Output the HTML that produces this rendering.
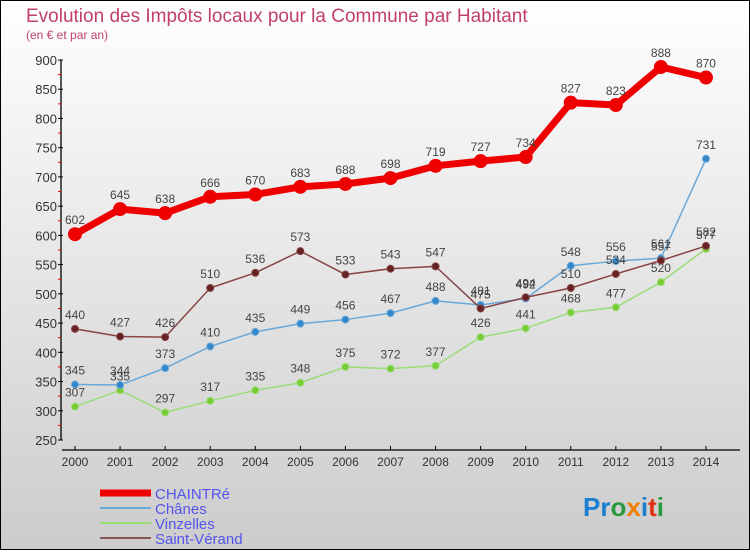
<!DOCTYPE html>
<html><head><meta charset="utf-8"><style>
body{margin:0;}
svg text{font-family:"Liberation Sans",sans-serif;}
</style></head><body>
<svg id="c" width="750" height="550" xmlns="http://www.w3.org/2000/svg">
<defs><linearGradient id="bg" x1="0" y1="0" x2="0" y2="1"><stop offset="0" stop-color="#ffffff"/><stop offset="1" stop-color="#cccccc"/></linearGradient></defs>
<rect x="0.5" y="0.5" width="749" height="549" fill="url(#bg)" stroke="#000"/>
<text x="26" y="22" font-size="19" fill="#c0406a">Evolution des Impôts locaux pour la Commune par Habitant</text>
<text x="26" y="39" font-size="12" fill="#c0406a">(en € et par an)</text>
<g id="axes"></g><g id="series"></g><g id="legend"></g>
<text x="583" y="516" font-size="26" font-weight="bold" fill="#1a7fd0">Pr<tspan fill="#2a9a40">o</tspan><tspan fill="#f08000">x</tspan><tspan fill="#1a7fd0">i</tspan><tspan fill="#e03010">t</tspan><tspan fill="#2a9a40">i</tspan></text>
</svg>
<script>
const years=[2000,2001,2002,2003,2004,2005,2006,2007,2008,2009,2010,2011,2012,2013,2014];
const yTicks=[250,300,350,400,450,500,550,600,650,700,750,800,850,900];
const chaintre=[602,645,638,666,670,683,688,698,719,727,734,827,823,888,870];
const chanes=[345,344,373,410,435,449,456,467,488,481,492,548,556,561,731];
const vinzelles=[307,335,297,317,335,348,375,372,377,426,441,468,477,520,577];
const saintVerand=[440,427,426,510,536,573,533,543,547,475,494,510,534,557,582];
const NS="http://www.w3.org/2000/svg";
function X(i){return 75+i*45.07;}
function Y(v){return 440-(v-250)*380/650;}
function mk(tag,attrs,parent,txt){const e=document.createElementNS(NS,tag);for(const k in attrs)e.setAttribute(k,attrs[k]);if(txt!==undefined)e.textContent=txt;parent.appendChild(e);return e;}
const ax=document.getElementById('axes');
let l=mk('line',{x1:61,y1:60,x2:61,y2:440,stroke:'#000','stroke-width':1.3},ax);


l=mk('line',{x1:62,y1:450,x2:740,y2:450,stroke:'#000','stroke-width':1.3},ax);


yTicks.forEach((v,i)=>{
  mk('line',{x1:58,y1:Y(v),x2:63,y2:Y(v),stroke:'#000'},ax);
  if(i<yTicks.length-1)mk('line',{x1:58,y1:Y(v+25),x2:61,y2:Y(v+25),stroke:'#e00'},ax);
  const t=mk('text',{x:57,y:Y(v)+5,'font-size':13,'text-anchor':'end',fill:'#333'},ax,v);
  
  
});
years.forEach((y,i)=>{
  mk('line',{x1:X(i),y1:446,x2:X(i),y2:450,stroke:'#000'},ax);
  const t=mk('text',{x:X(i),y:466,'font-size':12,'text-anchor':'middle',fill:'#333'},ax,y);
  
  
});
const sg=document.getElementById('series');
function draw(data,name,color,dot,w,r){
  const g=mk('g',{},sg);
  
  
  const pts=data.map((v,i)=>X(i)+','+Y(v)).join(' ');
  mk('polyline',{points:pts,fill:'none',stroke:color,'stroke-width':w,'stroke-linejoin':'round'},g);
  data.forEach((v,i)=>{
    const c=mk('circle',{cx:X(i),cy:Y(v),r:r,fill:dot,stroke:color,'stroke-width':1},g);
    
    
    const t=mk('text',{x:X(i),y:Y(v)-10,'font-size':12,'text-anchor':'middle',fill:'#444'},g,v);
    
    
  });
}
draw(vinzelles,'vinzelles','#99dd77','#77cc33',1.5,3.5);
draw(chanes,'chanes','#6aa8d8','#3388cc',1.5,3.5);
draw(saintVerand,'saint-verand','#884444','#662222',1.5,3.5);
draw(chaintre,'chaintre','#ee0000','#ee0000',7,6.5);
const lg=document.getElementById('legend');
const items=[['CHAINTRé','#ee0000',7],['Chânes','#6aa8d8',2],['Vinzelles','#99dd77',2],['Saint-Vérand','#885555',2]];
items.forEach((it,i)=>{
  const y=493+i*15;
  const g=mk('g',{},lg);
  
  
  mk('line',{x1:100,y1:y,x2:151,y2:y,stroke:it[1],'stroke-width':it[2]},g);
  mk('text',{x:155,y:y+6,'font-size':15,fill:'#5555ee'},g,it[0]);
});
</script>
</body></html>
